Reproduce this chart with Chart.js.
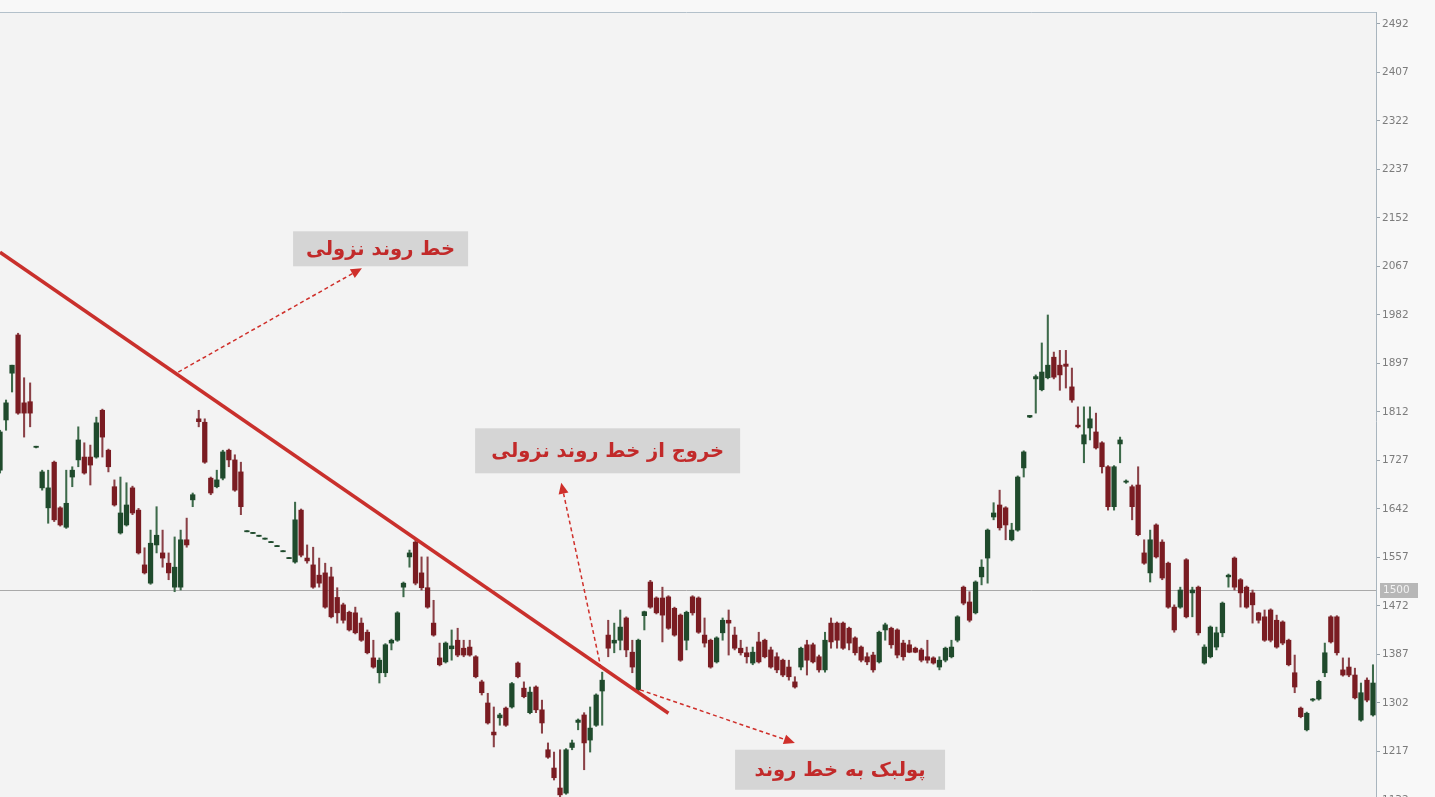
<!DOCTYPE html>
<html lang="fa">
<head>
<meta charset="utf-8">
<title>خط روند نزولی</title>
<script src="https://cdn.jsdelivr.net/npm/chart.js@4.4.1/dist/chart.umd.min.js"></script>
<style>
    html, body { margin: 0; padding: 0; width: 1435px; height: 797px; overflow: hidden; background: #f8f8f8; }
    #wrap { position: absolute; left: -3px; top: 0; width: 1438px; height: 830px; }
</style>
</head>
<body>
<div id="wrap"><canvas id="chartVelas"></canvas></div>
<script>
/**
 * Candlestick chart with a falling trend line, breakout and pullback notes.
 * Candles are floating bars: one thin bar low->high, one wide bar open->close.
 */

// ===========================
// DATA
// ===========================
const opens = [
    1710, 1798, 1880, 1947, 1828, 1830, 1750, 1679, 1644, 1724,
    1644, 1610, 1698, 1728, 1733, 1733, 1733, 1815, 1745, 1681,
    1600, 1614, 1679, 1640, 1544, 1512, 1579, 1565, 1547, 1505,
    1505, 1588, 1658, 1800, 1794, 1696, 1681, 1696, 1745, 1728,
    1707, 1602, 1599, 1594, 1589, 1583, 1576, 1567, 1555, 1549,
    1640, 1556, 1544, 1526, 1530, 1523, 1487, 1474, 1461, 1460,
    1442, 1426, 1381, 1355, 1355, 1407, 1412, 1505, 1558, 1584,
    1530, 1504, 1442, 1381, 1374, 1397, 1412, 1398, 1400, 1383,
    1339, 1302, 1251, 1276, 1293, 1295, 1372, 1328, 1285, 1330,
    1290, 1220, 1188, 1153, 1144, 1224, 1268, 1281, 1237, 1263,
    1323, 1421, 1407, 1412, 1451, 1391, 1325, 1455, 1514, 1486,
    1486, 1488, 1468, 1456, 1412, 1488, 1486, 1421, 1412, 1374,
    1425, 1447, 1421, 1398, 1390, 1372, 1409, 1412, 1395, 1383,
    1377, 1365, 1339, 1365, 1404, 1404, 1383, 1360, 1442, 1442,
    1442, 1433, 1416, 1400, 1383, 1386, 1374, 1430, 1433, 1430,
    1407, 1404, 1398, 1395, 1383, 1381, 1365, 1377, 1383, 1412,
    1505, 1479, 1460, 1523, 1556, 1628, 1649, 1644, 1588, 1605,
    1714, 1803, 1870, 1851, 1872, 1908, 1894, 1896, 1856, 1789,
    1756, 1784, 1777, 1758, 1716, 1646, 1756, 1689, 1681, 1684,
    1565, 1530, 1614, 1584, 1547, 1470, 1470, 1553, 1495, 1505,
    1372, 1383, 1400, 1425, 1523, 1556, 1518, 1505, 1495, 1460,
    1453, 1465, 1447, 1444, 1412, 1355, 1293, 1255, 1307, 1309,
    1355, 1453, 1453, 1360, 1365, 1351, 1272, 1342, 1281
];

const highs = [
    1780, 1833, 1894, 1950, 1872, 1863, 1752, 1710, 1710, 1726,
    1646, 1710, 1716, 1786, 1758, 1754, 1803, 1817, 1747, 1693,
    1698, 1688, 1682, 1643, 1574, 1605, 1646, 1605, 1565, 1593,
    1605, 1626, 1670, 1815, 1800, 1698, 1710, 1745, 1747, 1737,
    1724, 1604, 1601, 1596, 1591, 1585, 1578, 1569, 1557, 1654,
    1642, 1579, 1575, 1556, 1547, 1540, 1504, 1477, 1463, 1470,
    1451, 1430, 1412, 1381, 1406, 1414, 1462, 1514, 1570, 1588,
    1558, 1558, 1482, 1407, 1409, 1430, 1433, 1412, 1412, 1385,
    1342, 1319, 1295, 1284, 1295, 1338, 1374, 1339, 1330, 1332,
    1307, 1232, 1216, 1220, 1222, 1237, 1274, 1285, 1295, 1318,
    1356, 1447, 1442, 1465, 1453, 1412, 1414, 1463, 1517, 1488,
    1505, 1490, 1470, 1458, 1463, 1490, 1488, 1451, 1414, 1418,
    1451, 1465, 1435, 1412, 1400, 1400, 1426, 1414, 1400, 1390,
    1379, 1377, 1348, 1400, 1412, 1407, 1386, 1426, 1451, 1444,
    1444, 1435, 1418, 1402, 1390, 1391, 1428, 1442, 1435, 1432,
    1412, 1412, 1400, 1398, 1412, 1383, 1383, 1400, 1412, 1455,
    1507, 1497, 1516, 1553, 1607, 1653, 1675, 1646, 1617, 1700,
    1744, 1806, 1877, 1933, 1982, 1917, 1920, 1920, 1889, 1821,
    1821, 1821, 1810, 1760, 1718, 1718, 1768, 1693, 1684, 1716,
    1588, 1605, 1616, 1588, 1549, 1474, 1505, 1555, 1505, 1507,
    1404, 1437, 1435, 1479, 1528, 1558, 1520, 1507, 1500, 1461,
    1465, 1467, 1456, 1446, 1414, 1386, 1295, 1286, 1310, 1342,
    1407, 1455, 1455, 1381, 1381, 1363, 1337, 1346, 1369
];

const lows = [
    1705, 1780, 1847, 1808, 1768, 1786, 1749, 1675, 1617, 1620,
    1612, 1608, 1681, 1716, 1703, 1684, 1731, 1733, 1707, 1647,
    1598, 1612, 1632, 1563, 1528, 1510, 1565, 1540, 1518, 1497,
    1500, 1575, 1646, 1786, 1722, 1667, 1679, 1693, 1716, 1673,
    1632, 1602, 1599, 1594, 1589, 1583, 1576, 1567, 1555, 1547,
    1558, 1547, 1503, 1505, 1468, 1451, 1442, 1442, 1428, 1423,
    1410, 1388, 1363, 1337, 1348, 1395, 1410, 1488, 1540, 1509,
    1500, 1468, 1419, 1367, 1372, 1377, 1383, 1383, 1384, 1346,
    1316, 1265, 1225, 1263, 1261, 1293, 1346, 1311, 1283, 1285,
    1249, 1205, 1167, 1137, 1142, 1220, 1255, 1185, 1216, 1261,
    1263, 1383, 1390, 1395, 1383, 1355, 1323, 1430, 1468, 1458,
    1409, 1431, 1419, 1375, 1395, 1456, 1424, 1400, 1363, 1372,
    1412, 1386, 1395, 1386, 1372, 1369, 1372, 1381, 1363, 1355,
    1348, 1342, 1328, 1360, 1351, 1372, 1356, 1356, 1398, 1398,
    1396, 1395, 1386, 1374, 1369, 1356, 1372, 1412, 1398, 1381,
    1377, 1390, 1390, 1374, 1372, 1370, 1360, 1374, 1381, 1409,
    1474, 1444, 1458, 1509, 1512, 1623, 1605, 1588, 1586, 1603,
    1698, 1802, 1810, 1849, 1870, 1870, 1850, 1854, 1829, 1784,
    1723, 1763, 1747, 1705, 1640, 1640, 1723, 1687, 1623, 1595,
    1545, 1514, 1556, 1518, 1468, 1426, 1468, 1451, 1453, 1421,
    1370, 1381, 1395, 1418, 1505, 1500, 1470, 1468, 1442, 1442,
    1410, 1409, 1398, 1404, 1367, 1320, 1276, 1253, 1305, 1307,
    1348, 1407, 1386, 1349, 1348, 1309, 1270, 1304, 1279
];

const closes = [
    1777, 1828, 1894, 1810, 1810, 1810, 1752, 1707, 1679, 1623,
    1614, 1652, 1710, 1763, 1705, 1719, 1793, 1768, 1716, 1649,
    1635, 1649, 1635, 1565, 1530, 1582, 1596, 1556, 1530, 1540,
    1588, 1579, 1667, 1795, 1724, 1670, 1693, 1742, 1728, 1675,
    1646, 1604, 1601, 1596, 1591, 1585, 1578, 1569, 1557, 1623,
    1561, 1551, 1505, 1512, 1470, 1453, 1460, 1447, 1430, 1425,
    1412, 1390, 1365, 1377, 1404, 1412, 1460, 1512, 1565, 1512,
    1504, 1470, 1421, 1369, 1407, 1402, 1386, 1386, 1386, 1348,
    1320, 1267, 1246, 1281, 1263, 1336, 1348, 1313, 1321, 1290,
    1267, 1207, 1171, 1141, 1220, 1232, 1272, 1232, 1258, 1316,
    1342, 1398, 1412, 1435, 1395, 1365, 1412, 1462, 1470, 1460,
    1456, 1433, 1421, 1377, 1461, 1460, 1426, 1407, 1365, 1416,
    1447, 1442, 1398, 1390, 1383, 1391, 1374, 1383, 1365, 1360,
    1351, 1348, 1330, 1398, 1377, 1374, 1360, 1412, 1409, 1412,
    1398, 1407, 1390, 1377, 1374, 1360, 1426, 1439, 1404, 1386,
    1383, 1391, 1391, 1377, 1377, 1372, 1377, 1398, 1400, 1453,
    1477, 1447, 1514, 1540, 1605, 1635, 1609, 1614, 1605, 1698,
    1742, 1806, 1874, 1882, 1894, 1873, 1877, 1892, 1833, 1786,
    1772, 1800, 1749, 1716, 1646, 1716, 1763, 1691, 1646, 1597,
    1547, 1588, 1558, 1521, 1470, 1430, 1500, 1453, 1500, 1425,
    1400, 1435, 1425, 1477, 1526, 1505, 1495, 1470, 1474, 1447,
    1412, 1412, 1400, 1407, 1369, 1330, 1278, 1284, 1309, 1340,
    1390, 1409, 1390, 1351, 1351, 1311, 1320, 1307, 1337
];

// price axis labels (step 85)
const yTicks = [2492, 2407, 2322, 2237, 2152, 2067, 1982, 1897, 1812, 1727,
                1642, 1557, 1472, 1387, 1302, 1217, 1132];

const LAST_PRICE = 1500;

// trend line ends: [candle index, price]
const trendStart = [0, 2092];
const trendEnd = [111, 1284];

// ===========================
// CONFIG
// ===========================
const CONFIG = {
    Y_MIN: 1079.4,
    Y_MAX: 2513,
    AXIS_WIDTH: 59,
    BODY_UP: '#1f4a2c',
    BODY_DOWN: '#7a1c22',
    WICK_UP: '#3d6a4a',
    WICK_DOWN: '#8a4046',
    TREND: '#c9302c',
    NOTE_RED: '#cf2f2a',
    NOTE_TEXT: '#c22a2a',
    NOTE_BG: '#d5d5d5',
    PLOT_BG: '#f3f3f3',
    PAGE_BG: '#f8f8f8'
};

// notes: centre given as [candle index, price]
const notes = [
    { text: 'خط روند نزولی', at: [63.2, 2098], w: 175, h: 35 },
    { text: 'خروج از خط روند نزولی', at: [100.9, 1744], w: 265, h: 45 },
    { text: 'پولبک به خط روند', at: [139.5, 1185], w: 210, h: 40 }
];

const arrows = [
    { from: [29.6, 1882], to: [60.1, 2064] },
    { from: [99.8, 1363], to: [93.2, 1688] },
    { from: [106.3, 1325], to: [132.0, 1232] }
];

const candleLabels = opens.map((_, i) => 'D' + (i + 1));
const isUp = closes.map((c, i) => c >= opens[i]);

// ===========================
// PLUGINS
// ===========================
const backgroundPlugin = {
    id: 'background',
    beforeDraw(chart) {
        const { ctx, chartArea: a } = chart;
        ctx.save();
        ctx.fillStyle = CONFIG.PAGE_BG;
        ctx.fillRect(0, 0, chart.width, chart.height);
        ctx.fillStyle = CONFIG.PLOT_BG;
        ctx.fillRect(a.left, a.top, a.right - a.left, a.bottom - a.top);
        // top frame line
        ctx.strokeStyle = '#b3c0ca';
        ctx.lineWidth = 1;
        ctx.beginPath();
        ctx.moveTo(a.left, a.top + 0.5);
        ctx.lineTo(a.right, a.top + 0.5);
        ctx.stroke();
        ctx.restore();
    },
    beforeDatasetsDraw(chart) {
        const { ctx, chartArea: a, scales: { y } } = chart;
        const py = Math.round(y.getPixelForValue(LAST_PRICE)) + 0.5;
        ctx.save();
        ctx.strokeStyle = '#a9a9a9';
        ctx.lineWidth = 1;
        ctx.beginPath();
        ctx.moveTo(a.left, py);
        ctx.lineTo(a.right, py);
        ctx.stroke();
        ctx.restore();
    }
};

function drawArrow(ctx, x1, y1, x2, y2) {
    const ang = Math.atan2(y2 - y1, x2 - x1);
    const head = 11;
    const bx = x2 - Math.cos(ang) * head;
    const by = y2 - Math.sin(ang) * head;
    ctx.save();
    ctx.strokeStyle = CONFIG.NOTE_RED;
    ctx.fillStyle = CONFIG.NOTE_RED;
    ctx.lineWidth = 1.5;
    ctx.setLineDash([4, 3]);
    ctx.beginPath();
    ctx.moveTo(x1, y1);
    ctx.lineTo(bx, by);
    ctx.stroke();
    ctx.setLineDash([]);
    ctx.beginPath();
    ctx.moveTo(x2, y2);
    ctx.lineTo(bx + Math.sin(ang) * 5, by - Math.cos(ang) * 5);
    ctx.lineTo(bx - Math.sin(ang) * 5, by + Math.cos(ang) * 5);
    ctx.closePath();
    ctx.fill();
    ctx.restore();
}

const notesPlugin = {
    id: 'notes',
    afterDatasetsDraw(chart) {
        const { ctx, scales: { x, y } } = chart;
        arrows.forEach(a => {
            drawArrow(ctx,
                x.getPixelForValue(a.from[0]), y.getPixelForValue(a.from[1]),
                x.getPixelForValue(a.to[0]), y.getPixelForValue(a.to[1]));
        });
        notes.forEach(n => {
            const cx = x.getPixelForValue(n.at[0]);
            const cy = y.getPixelForValue(n.at[1]);
            ctx.save();
            ctx.fillStyle = CONFIG.NOTE_BG;
            ctx.fillRect(cx - n.w / 2, cy - n.h / 2, n.w, n.h);
            ctx.fillStyle = CONFIG.NOTE_TEXT;
            ctx.font = 'bold 19.5px "DejaVu Sans"';
            ctx.textAlign = 'center';
            ctx.textBaseline = 'middle';
            ctx.direction = 'rtl';
            ctx.fillText(n.text, cx, cy + 1);
            ctx.restore();
        });
    },
    afterDraw(chart) {
        // last price tag on the axis
        const { ctx, chartArea: a, scales: { y } } = chart;
        const py = y.getPixelForValue(LAST_PRICE);
        ctx.save();
        ctx.fillStyle = '#b7b7b7';
        ctx.fillRect(a.right + 4, py - 7, 38, 15);
        ctx.fillStyle = '#f2f2f2';
        ctx.font = '10.5px "DejaVu Sans"';
        ctx.textAlign = 'left';
        ctx.textBaseline = 'middle';
        ctx.fillText(String(LAST_PRICE), a.right + 7, py + 0.5);
        ctx.restore();
    }
};

// ===========================
// CHART
// ===========================
new Chart(document.getElementById('chartVelas'), {
    type: 'bar',
    data: {
        labels: candleLabels,
        datasets: [
            {
                label: 'Wicks',
                data: lows.map((l, i) => [l, highs[i]]),
                backgroundColor: isUp.map(u => u ? CONFIG.WICK_UP : CONFIG.WICK_DOWN),
                barThickness: 1.4,
                grouped: false,
                order: 2
            },
            {
                label: 'Bodies',
                data: opens.map((o, i) => [o, closes[i]]),
                backgroundColor: isUp.map(u => u ? CONFIG.BODY_UP : CONFIG.BODY_DOWN),
                barThickness: 4.6,
                grouped: false,
                order: 1
            },
            {
                type: 'line',
                label: 'Trend',
                data: [
                    { x: candleLabels[trendStart[0]], y: trendStart[1] },
                    { x: candleLabels[trendEnd[0]], y: trendEnd[1] }
                ],
                borderColor: CONFIG.TREND,
                borderWidth: 3.5,
                pointRadius: 0,
                order: 0
            }
        ]
    },
    options: {
        responsive: true,
        maintainAspectRatio: false,
        animation: false,
        events: [],
        layout: { padding: { top: 12, left: 0, right: 0, bottom: 0 } },
        plugins: { legend: { display: false }, tooltip: { enabled: false } },
        scales: {
            x: { display: false, offset: true },
            y: {
                position: 'right',
                min: CONFIG.Y_MIN,
                max: CONFIG.Y_MAX,
                afterBuildTicks: scale => { scale.ticks = yTicks.map(v => ({ value: v })); },
                afterFit: scale => {
                    scale.width = CONFIG.AXIS_WIDTH;
                    scale.paddingTop = 0;
                    scale.paddingBottom = 0;
                },
                grid: { drawOnChartArea: false, drawTicks: true, tickLength: 4, color: '#9aa4ac' },
                border: { display: true, color: '#a9b5be', width: 1 },
                ticks: {
                    color: '#7c7c7c',
                    font: { family: 'DejaVu Sans', size: 10.5 },
                    padding: 2,
                    autoSkip: false,
                    callback: v => String(v)
                }
            }
        }
    },
    plugins: [backgroundPlugin, notesPlugin]
});
</script>
</body>
</html>
